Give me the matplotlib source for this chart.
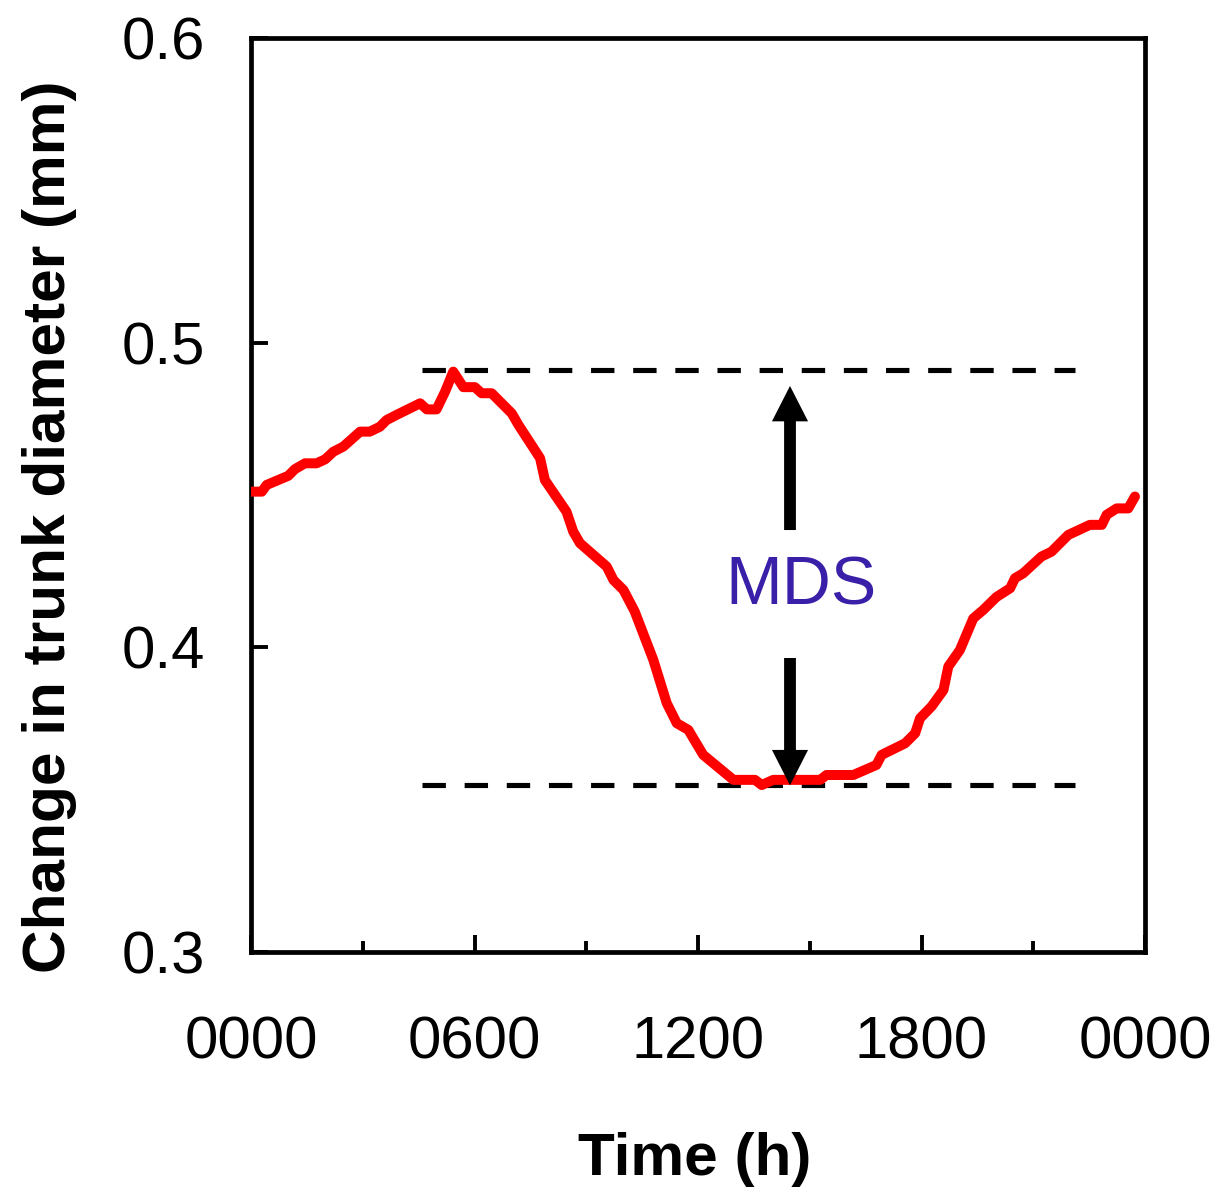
import matplotlib
matplotlib.use("Agg")
import matplotlib.pyplot as plt
from matplotlib.ticker import MultipleLocator

plt.rcParams["font.family"] = ["Liberation Sans", "DejaVu Sans"]

# trunk diameter trace (hour of day, mm)
hours = [0.0, 0.29, 0.42, 1.0, 1.18, 1.45, 1.76, 1.99, 2.21, 2.48, 2.93, 3.19, 3.46,
         3.64, 3.91, 4.54, 4.72, 4.98, 5.21, 5.43, 5.70, 6.01, 6.19, 6.46, 7.0, 7.18,
         7.76, 7.89, 8.47, 8.65, 8.83, 9.55, 9.73, 10.0, 10.3, 10.8, 11.16, 11.43,
         11.74, 12.14, 12.95, 13.53, 13.71, 14.02, 15.28, 15.45, 16.17, 16.79, 16.93,
         17.56, 17.83, 17.96, 18.27, 18.59, 18.72, 19.03, 19.39, 19.66, 20.01, 20.38,
         20.51, 20.73, 21.22, 21.49, 21.94, 22.52, 22.84, 22.97, 23.24, 23.55, 23.73]
diameter = [0.4511, 0.4511, 0.4533, 0.4563, 0.4585, 0.4604, 0.4604, 0.4617, 0.4642,
            0.4659, 0.4708, 0.4708, 0.4724, 0.4746, 0.4763, 0.4801, 0.4781, 0.4781,
            0.4839, 0.4905, 0.4854, 0.4854, 0.4834, 0.4834, 0.4768, 0.4730, 0.4621,
            0.4549, 0.4445, 0.4380, 0.4342, 0.4265, 0.4221, 0.4188, 0.4118, 0.3959,
            0.3817, 0.3751, 0.3729, 0.3647, 0.3565, 0.3565, 0.3548, 0.3565, 0.3565,
            0.3581, 0.3581, 0.3614, 0.3647, 0.3685, 0.3718, 0.3767, 0.3806, 0.3860,
            0.3937, 0.3991, 0.4095, 0.4123, 0.4165, 0.4194, 0.4227, 0.4243, 0.4298,
            0.4314, 0.4369, 0.4402, 0.4402, 0.4435, 0.4456, 0.4456, 0.4495]

max_level = 0.4910
min_level = 0.3547
ref_span = (4.59, 22.12)
arrow_hour = 14.47
arrow_up = (0.4385, 0.4858)
arrow_down = (0.3965, 0.3547)
label_level = 0.4139

xtick_pos = [0, 6, 12, 18, 24]
xtick_labels = ["0000", "0600", "1200", "1800", "0000"]
ytick_pos = [0.3, 0.4, 0.5, 0.6]

fig = plt.figure(figsize=(12.17, 11.88), dpi=100)
ax = fig.add_axes([251 / 1217, 1 - 952 / 1188, 894 / 1217, 914 / 1188])

ax.plot(hours, diameter, color="#ff0000", lw=7.2, solid_joinstyle="round",
        solid_capstyle="round", zorder=3)

for level in (max_level, min_level):
    ax.plot(ref_span, [level, level], color="black", lw=3.7,
            linestyle=(0, (4.55, 3.65)), dash_capstyle="butt", zorder=2)

arrow_style = "simple,head_length=25.5,head_width=26,tail_width=8.5"
for start, end in (arrow_up, arrow_down):
    ax.annotate("", xy=(arrow_hour, end), xytext=(arrow_hour, start),
                arrowprops=dict(arrowstyle=arrow_style, mutation_scale=1,
                                fc="black", ec="black", lw=0,
                                shrinkA=0, shrinkB=0), zorder=4)

ax.text(arrow_hour + 0.3, label_level, "MDS", color="#3a1fa8", fontsize=49,
        ha="center", va="baseline", zorder=5)

ax.set_xlim(0, 24)
ax.set_ylim(0.3, 0.6)
ax.set_xticks(xtick_pos)
ax.set_xticklabels(xtick_labels)
ax.xaxis.set_minor_locator(MultipleLocator(3))
ax.set_yticks(ytick_pos)
ax.set_yticklabels([f"{v:.1f}" for v in ytick_pos])

for side in ax.spines.values():
    side.set_linewidth(3.4)
ax.tick_params(axis="both", which="major", direction="in", length=12.5, width=2.8,
               labelsize=43, color="black")
ax.tick_params(axis="x", which="major", pad=46)
ax.tick_params(axis="y", which="major", pad=33)
ax.tick_params(axis="x", which="minor", direction="in", length=8, width=2.8)

fig.text(50 / 1217, 1 - 527 / 1188, "Change in trunk diameter (mm)", rotation=90,
         fontsize=43.5, fontweight="bold", ha="center", va="center")
fig.text(695 / 1217, 1 - 1175 / 1188, "Time (h)", fontsize=43.5, fontweight="bold",
         ha="center", va="baseline")

fig.savefig("out.png", dpi=100)
